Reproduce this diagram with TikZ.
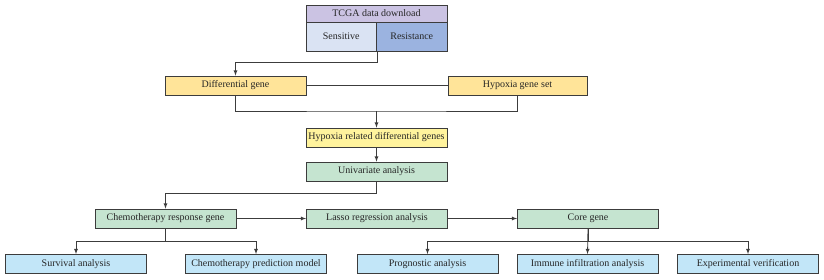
\documentclass[tikz,border=0pt]{standalone}
\usepackage{fontspec}
\setmainfont{Liberation Serif}
\usepackage{xcolor}
\usepackage{tikz}
\usetikzlibrary{shapes,arrows,positioning,calc}
\definecolor{headlavender}{RGB}{203, 195, 227}
\definecolor{senseblue}{RGB}{218, 227, 243}
\definecolor{resistblue}{RGB}{155, 179, 224}
\definecolor{geneorange}{RGB}{255, 228, 153}
\definecolor{hypoyellow}{RGB}{255, 243, 157}
\definecolor{stepgreen}{RGB}{197, 228, 208}
\definecolor{outblue}{RGB}{194, 230, 248}
\definecolor{edgegray}{RGB}{60, 60, 60}

\begin{document}
\begin{tikzpicture}[x=1pt,y=-1pt,
    box/.style={draw=edgegray,line width=0.8pt,rectangle,minimum width=141pt,minimum height=19pt,inner sep=0pt,font=\fontsize{10}{11}\selectfont,text=black!85},
    link/.style={draw=edgegray,line width=0.8pt},
    >=latex]
    \useasboundingbox (0,0) rectangle (824,279);
    \node[box,fill=headlavender,minimum height=17pt] (tcga) at (376.5,13.5) {TCGA data download};
    \node[box,fill=senseblue,minimum width=70.5pt,minimum height=29pt] (sens) at (341.25,36.5) {Sensitive};
    \node[box,fill=resistblue,minimum width=70.5pt,minimum height=29pt] (resist) at (411.75,36.5) {Resistance};
    \node[box,fill=geneorange] (diff) at (235.5,85.5) {Differential gene};
    \node[box,fill=geneorange,minimum width=139pt] (hypset) at (517.5,85.5) {Hypoxia gene set};
    \node[box,fill=hypoyellow] (hrdg) at (376.5,137.5) {Hypoxia related differential genes};
    \node[box,fill=stepgreen] (univ) at (376.5,171.5) {Univariate analysis};
    \node[box,fill=stepgreen] (chemo) at (165.5,218.5) {Chemotherapy response gene};
    \node[box,fill=stepgreen] (lasso) at (377,218.5) {Lasso regression analysis};
    \node[box,fill=stepgreen] (core) at (588,218.5) {Core gene};
    \node[box,fill=outblue] (surv) at (76,264) {Survival analysis};
    \node[box,fill=outblue] (pred) at (256,264) {Chemotherapy prediction model};
    \node[box,fill=outblue] (prog) at (427.5,264) {Prognostic analysis};
    \node[box,fill=outblue] (immune) at (587.5,264) {Immune infiltration analysis};
    \node[box,fill=outblue] (verify) at (748,264) {Experimental verification};
    \coordinate (merge) at (376.5,111);
    \draw[link,->] (sens.south east) -- ++(0,11) -| (diff.north);
    \draw[link] (diff.east) -- (hypset.west);
    \draw[link] (diff.south) |- (merge) -| (hypset.south);
    \draw[link,->] (merge) -- (hrdg.north);
    \draw[link,->] (hrdg.south) -- (univ.north);
    \draw[link,->] (univ.south) -- ++(0,12) -| (chemo.north);
    \draw[link,->] (chemo.east) -- (lasso.west);
    \draw[link,->] (lasso.east) -- (core.west);
    \draw[link,->] (chemo.south) -- ++(0,13) -| (surv.north);
    \draw[link,->] (chemo.south) -- ++(0,13) -| (pred.north);
    \draw[link,->] (core.south) -- ++(0,13) -| (prog.north);
    \draw[link,->] (core.south) -- (immune.north);
    \draw[link,->] (core.south) -- ++(0,13) -| (verify.north);
\end{tikzpicture}
\end{document}
